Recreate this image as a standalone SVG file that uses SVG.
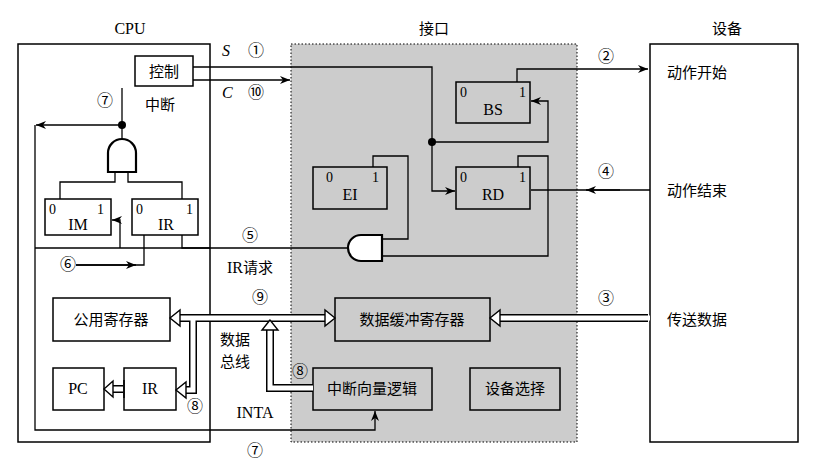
<svg xmlns="http://www.w3.org/2000/svg" width="816" height="460" viewBox="0 0 816 460">
<defs>
<style>
text{font-family:"Liberation Serif","Times New Roman","Noto Sans CJK SC",serif;font-weight:normal;fill:#000}
.cn{font-family:"Noto Sans CJK SC",sans-serif;font-size:15px}
.lab{font-size:16px}
.bit{font-size:14px}
.box{fill:none;stroke:#000;stroke-width:1.5}
.gbox{fill:#cccccc;stroke:#000;stroke-width:1.5}
.w{fill:none;stroke:#000;stroke-width:1.3}
.gate{fill:#fff;stroke:#000;stroke-width:2.2}
.busb{fill:none;stroke:#000;stroke-width:8;stroke-linejoin:miter}
.busw{fill:none;stroke:#fff;stroke-width:5;stroke-linejoin:miter}
.bh{fill:#fff;stroke:#000;stroke-width:1.4}
</style>
<marker id="ar" viewBox="0 0 10 8" refX="10" refY="4" markerWidth="10" markerHeight="8" markerUnits="userSpaceOnUse" orient="auto"><path d="M0,0 L10,4 L0,8 L3,4 Z" fill="#000"/></marker>
</defs>
<rect width="816" height="460" fill="#fff"/>
<g id="interface-region"><rect x="291" y="44" width="286" height="398" fill="#cccccc" stroke="#000" stroke-dasharray="1.5,2"/><text x="434" y="34" class="cn" text-anchor="middle">接口</text></g>
<g id="cpu"><rect x="18" y="44" width="192" height="398" class="box"/><text x="130" y="34" class="lab" text-anchor="middle">CPU</text></g>
<g id="device"><rect x="650" y="44" width="148" height="398" class="box"/><text x="727" y="34" class="cn" text-anchor="middle">设备</text></g>
<g id="ctrl"><rect x="135" y="56" width="58" height="30" fill="#fff" stroke="#000" stroke-width="1.5"/><text x="164" y="77" class="cn" text-anchor="middle">控制</text></g>
<g id="im"><rect x="45" y="199" width="66" height="36" fill="#fff" stroke="#000" stroke-width="1.5"/><text x="49" y="214" class="bit">0</text><text x="78" y="230" class="lab" text-anchor="middle">IM</text><text x="97" y="214" class="bit">1</text></g>
<g id="ir-flag"><rect x="132" y="199" width="66" height="36" fill="#fff" stroke="#000" stroke-width="1.5"/><text x="136" y="214" class="bit">0</text><text x="166" y="230" class="lab" text-anchor="middle">IR</text><text x="186" y="214" class="bit">1</text></g>
<g id="bs"><rect x="456" y="82" width="74" height="41" class="gbox"/><text x="460" y="97" class="bit">0</text><text x="493" y="115" class="lab" text-anchor="middle">BS</text><text x="519" y="97" class="bit">1</text></g>
<g id="rd"><rect x="456" y="167" width="74" height="42" class="gbox"/><text x="460" y="182" class="bit">0</text><text x="493" y="200" class="lab" text-anchor="middle">RD</text><text x="519" y="182" class="bit">1</text></g>
<g id="ei"><rect x="313" y="167" width="74" height="42" class="gbox"/><text x="326" y="182" class="bit">0</text><text x="350" y="200" class="lab" text-anchor="middle">EI</text><text x="372" y="182" class="bit">1</text></g>
<g id="reg"><rect x="53" y="298" width="117" height="43" fill="#fff" stroke="#000" stroke-width="1.5"/><text x="111" y="325" class="cn" text-anchor="middle">公用寄存器</text></g>
<g id="pc"><rect x="53" y="368" width="51" height="42" fill="#fff" stroke="#000" stroke-width="1.5"/><text x="78" y="394" class="lab" text-anchor="middle">PC</text></g>
<g id="ir"><rect x="124" y="368" width="52" height="42" fill="#fff" stroke="#000" stroke-width="1.5"/><text x="150" y="394" class="lab" text-anchor="middle">IR</text></g>
<g id="dbr"><rect x="335" y="298" width="155" height="43" class="gbox"/><text x="412" y="325" class="cn" text-anchor="middle">数据缓冲寄存器</text></g>
<g id="ivl"><rect x="313" y="368" width="119" height="42" class="gbox"/><text x="372" y="394" class="cn" text-anchor="middle">中断向量逻辑</text></g>
<g id="devsel"><rect x="470" y="368" width="90" height="42" class="gbox"/><text x="515" y="394" class="cn" text-anchor="middle">设备选择</text></g>
<g id="connectors">
<path class="w" d="M193,67 H432 V191 H455" marker-end="url(#ar)"/>
<path class="w" d="M193,80 H290" marker-end="url(#ar)"/>
<path class="w" d="M432,142 H548 V101 H531" marker-end="url(#ar)"/>
<path class="w" d="M517,82 V69 H648" marker-end="url(#ar)"/>
<path class="w" d="M650,190 H531"/>
<path class="w" d="M620,190 H586" marker-end="url(#ar)"/>
<path class="w" d="M518,167 V156 H548 V256 H382"/>
<path class="w" d="M373,167 V156 H408 V239 H382"/>
<path class="w" d="M348,248 H182 V235"/>
<path class="w" d="M122,140 V88"/>
<path class="w" d="M122,125 H36" marker-end="url(#ar)"/>
<path class="w" d="M35,125 V430 H375 V411" marker-end="url(#ar)"/>
<path class="w" d="M35,248 H210"/>
<path class="w" d="M115,172 V182 H60 V199"/>
<path class="w" d="M128,172 V182 H182 V199"/>
<path class="w" d="M120,248 V220 H112" marker-end="url(#ar)"/>
<path class="w" d="M76,265 H144 V235"/>
<path class="w" d="M76,265 H136" marker-end="url(#ar)"/>
<path class="gate" d="M108,172 V153 A14,14 0 0 1 136,153 V172 Z"/>
<path class="gate" d="M382,235 H361 A13,13 0 0 0 361,261 H382 Z"/>
<circle cx="122" cy="125" r="4"/>
<circle cx="432" cy="142" r="4"/>
<path class="busb" d="M176,318 H328"/><path class="busb" d="M193,318 V390 H182"/><path class="busb" d="M270,328 V388 H313"/><path class="busb" d="M123,389 H110"/><path class="busb" d="M648,318 H497"/>
<path class="busw" d="M176,318 H328"/><path class="busw" d="M193,318 V390 H182"/><path class="busw" d="M270,328 V388 H313"/><path class="busw" d="M123,389 H110"/><path class="busw" d="M650,318 H497"/>
<path d="M124,380 V398" stroke="#000" stroke-width="1.5"/>
<polygon class="bh" points="170,318 180,310 180,326"/>
<polygon class="bh" points="335,318 325,310 325,326"/>
<polygon class="bh" points="176,390 186,382 186,398"/>
<polygon class="bh" points="270,320 262,330 278,330"/>
<polygon class="bh" points="104,389 113,381 113,397"/>
<polygon class="bh" points="490,318 500,310 500,326"/>
</g>
<g id="labels">
<text x="222" y="56" class="lab" font-style="italic">S</text><text x="248" y="56" class="lab">①</text>
<text x="222" y="98" class="lab" font-style="italic">C</text><text x="248" y="98" class="lab">⑩</text>
<text x="606" y="62" class="lab" text-anchor="middle">②</text>
<text x="606" y="177" class="lab" text-anchor="middle">④</text>
<text x="606" y="304" class="lab" text-anchor="middle">③</text>
<text x="697" y="78" class="cn" text-anchor="middle">动作开始</text>
<text x="697" y="196" class="cn" text-anchor="middle">动作结束</text>
<text x="697" y="325" class="cn" text-anchor="middle">传送数据</text>
<text x="105" y="106" class="lab" text-anchor="middle">⑦</text>
<text x="160" y="110" class="cn" text-anchor="middle">中断</text>
<text x="250" y="241" class="lab" text-anchor="middle">⑤</text>
<text x="250" y="273" class="lab" text-anchor="middle">IR<tspan class="cn">请求</tspan></text>
<text x="68" y="270" class="lab" text-anchor="middle">⑥</text>
<text x="260" y="303" class="lab" text-anchor="middle">⑨</text>
<text x="235" y="345" class="cn" text-anchor="middle">数据</text>
<text x="235" y="367" class="cn" text-anchor="middle">总线</text>
<text x="300" y="377" class="lab" text-anchor="middle">⑧</text>
<text x="195" y="412" class="lab" text-anchor="middle">⑧</text>
<text x="255" y="418" class="lab" text-anchor="middle">INTA</text>
<text x="255" y="456" class="lab" text-anchor="middle">⑦</text>
</g>
</svg>
